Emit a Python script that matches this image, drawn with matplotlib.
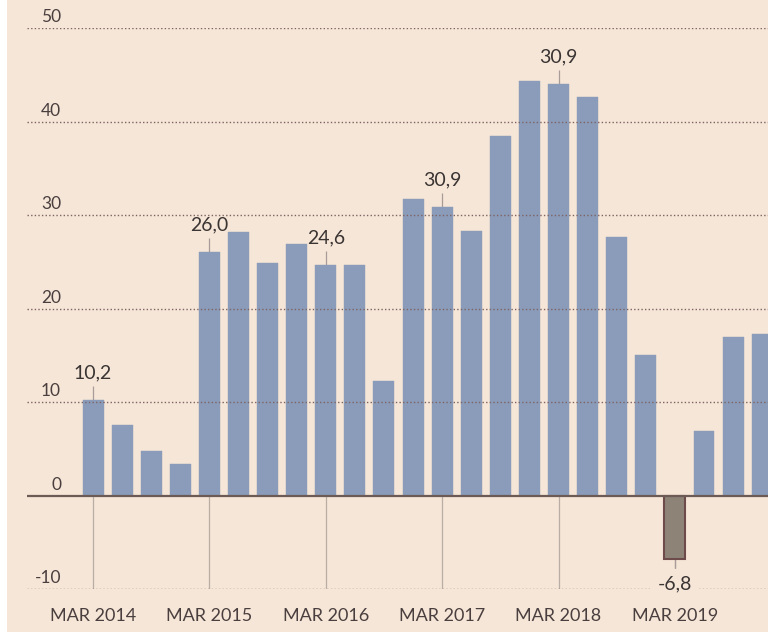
import matplotlib.pyplot as plt
import matplotlib.transforms as mtransforms
from matplotlib.patches import Rectangle

plt.rcParams['font.family'] = ['Lato', 'DejaVu Sans']

# quarterly values, Mar 2014 .. Dec 2019
quarters = ["Mar 2014", "Jun 2014", "Sep 2014", "Dec 2014",
            "Mar 2015", "Jun 2015", "Sep 2015", "Dec 2015",
            "Mar 2016", "Jun 2016", "Sep 2016", "Dec 2016",
            "Mar 2017", "Jun 2017", "Sep 2017", "Dec 2017",
            "Mar 2018", "Jun 2018", "Sep 2018", "Dec 2018",
            "Mar 2019", "Jun 2019", "Sep 2019", "Dec 2019"]
values = [10.2, 7.5, 4.8, 3.4,
          26.0, 28.2, 24.9, 26.9,
          24.6, 24.7, 12.2, 31.7,
          30.9, 28.3, 38.5, 44.3,
          44.0, 42.6, 27.7, 15.0,
          -6.8, 6.9, 17.0, 17.3]

# labelled bars (index, text)
label_idx = [0, 4, 8, 12, 16, 20]
label_txt = ["10,2", "26,0", "24,6", "30,9", "30,9", "-6,8"]

year_idx = [0, 4, 8, 12, 16, 20]
year_labels = ["MAR 2014", "MAR 2015", "MAR 2016", "MAR 2017", "MAR 2018", "MAR 2019"]

yticks = [-10, 0, 10, 20, 30, 40, 50]

bg = "#f6e6d7"
blue = "#8a9cba"
neg_face = "#8d8477"
neg_edge = "#6e4b4b"
text_col = "#3a3433"
grid_col = "#7d6363"

fig = plt.figure(figsize=(7.68, 6.35), dpi=100, facecolor="white")
fig.patches.append(Rectangle((7 / 768, 3 / 635), 1, 1, transform=fig.transFigure,
                             facecolor=bg, edgecolor="none", zorder=-10))
ax = fig.add_axes([27 / 768, 46 / 635, 741 / 768, 561 / 635])
ax.set_zorder(5)
ax.patch.set_visible(False)

x = list(range(len(values)))
colors = [blue if v >= 0 else neg_face for v in values]
edges = [blue if v >= 0 else neg_edge for v in values]
ax.bar(x, values, width=0.72, color=colors, edgecolor=edges,
       linewidth=[0.3 if v >= 0 else 1.5 for v in values], zorder=2)

ax.set_xlim(-2.27, 23.2)
ax.set_ylim(-10, 50)

# dotted grid lines on top of bars
for t in yticks:
    if t == 0:
        ax.axhline(0, color="#6b5a55", lw=1.6, zorder=4)
    else:
        ax.axhline(t, color=grid_col, lw=1.0, ls=(0, (1, 1.6)), zorder=3)

# y labels sit above the grid lines
tr = mtransforms.blended_transform_factory(ax.transAxes, ax.transData)
for t in yticks:
    ax.annotate(str(t), xy=(0.046, t), xycoords=tr, xytext=(0, 2),
                textcoords="offset points", ha="right", va="bottom",
                fontsize=12.5, color="#4a3f3f", annotation_clip=False)

# year marker lines
ax.vlines(year_idx, -10, 0, color="#b9aea6", lw=0.9, zorder=1)

# bar labels with leader lines
for i, txt in zip(label_idx, label_txt):
    v = values[i]
    if v >= 0:
        ax.vlines(i, v, v + 1.5, color="#a89c98", lw=0.9, zorder=1)
        ax.text(i, v + 2.0, txt, ha="center", va="bottom", fontsize=14,
                color=text_col, zorder=5)
    else:
        ax.vlines(i, v, v - 1.0, color="#a89c98", lw=0.9, zorder=1)
        ax.text(i, v - 2.6, txt, ha="center", va="center", fontsize=14,
                color=text_col, zorder=5,
                bbox=dict(facecolor=bg, edgecolor="none", pad=4))

ax.set_xticks(year_idx)
ax.set_xticklabels(year_labels, fontsize=13, color="#4a3f3f")
ax.tick_params(axis="x", length=0, pad=14)
ax.set_yticks([])
for s in ax.spines.values():
    s.set_visible(False)

fig.savefig("out.png", dpi=100, facecolor=fig.get_facecolor())
